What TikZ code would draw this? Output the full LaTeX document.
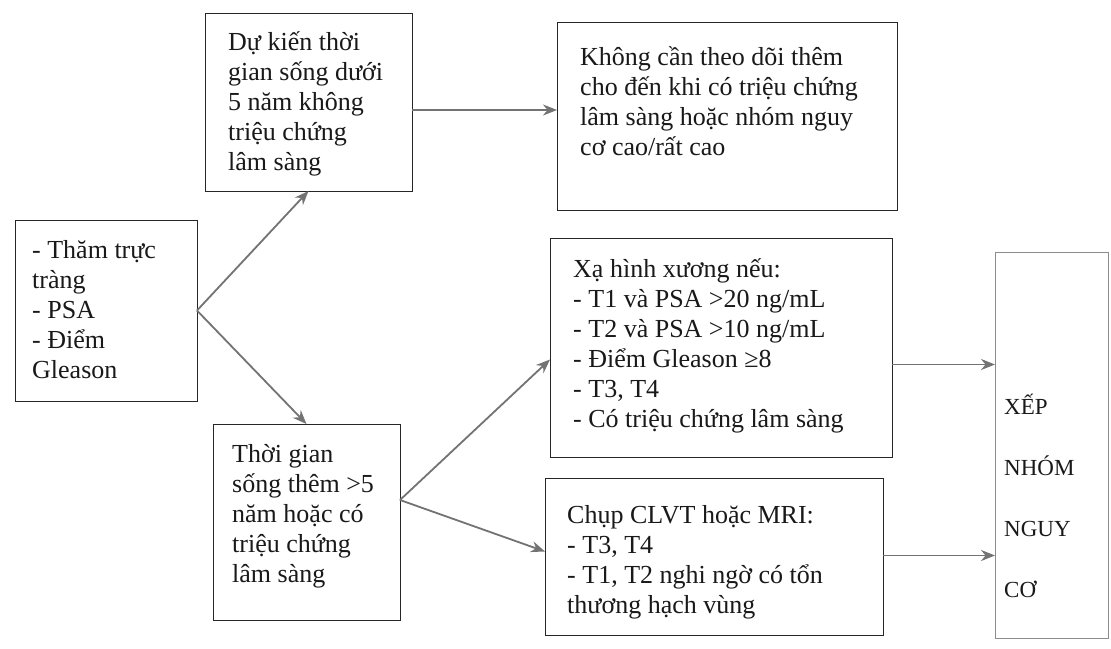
\documentclass[tikz,border=0pt]{standalone}
\usepackage{fontspec}
\setmainfont{Liberation Serif}
\usetikzlibrary{arrows.meta}
\newcommand{\fsm}{\fontsize{26}{30}\selectfont}
\newcommand{\fsg}{\fontsize{23}{61}\selectfont}
\begin{document}
\begin{tikzpicture}[x=1pt,y=-1pt,
  box/.style={draw=black!85, line width=0.9pt, inner sep=0pt, outer sep=0pt, anchor=north west},
  txt/.style={anchor=north west, inner sep=0pt, align=left, font=\fsm, text=black!90},
  arr/.style={draw=black!55, line width=1.8pt, -{Stealth[length=14pt,width=11pt]}}]
\useasboundingbox[fill=white] (0,0) rectangle (1111,648);
% boxes
\node[box, minimum width=182pt, minimum height=181pt] (a) at (15,220) {};
\node[box, minimum width=207pt, minimum height=178pt] (b) at (205,13) {};
\node[box, minimum width=340pt, minimum height=188pt] (c) at (557,22) {};
\node[box, minimum width=342pt, minimum height=219pt] (d) at (550,238) {};
\node[box, minimum width=187pt, minimum height=196pt] (e) at (213,424) {};
\node[box, minimum width=338pt, minimum height=157pt] (f) at (545,478) {};
\node[box, draw=black!45, minimum width=113pt, minimum height=386pt] (g) at (995,252) {};
% texts
\node[txt] (ta) at (32,237) {\strut- Thăm trực\\tràng\\- PSA\\- Điểm\\Gleason};
\node[txt] (tb) at (228,29) {\strut Dự kiến thời\\gian sống dưới\\5 năm không\\triệu chứng\\lâm sàng};
\node[txt] (tc) at (580,44) {\strut Không cần theo dõi thêm\\cho đến khi có triệu chứng\\lâm sàng hoặc nhóm nguy\\cơ cao/rất cao};
\node[txt] (td) at (573,256) {\strut Xạ hình xương nếu:\\- T1 và PSA >20 ng/mL\\- T2 và PSA >10 ng/mL\\- Điểm Gleason ≥8\\- T3, T4\\- Có triệu chứng lâm sàng};
\node[txt] (te) at (232,441) {\strut Thời gian\\sống thêm >5\\năm hoặc có\\triệu chứng\\lâm sàng};
\node[txt] (tf) at (567,502) {\strut Chụp CLVT hoặc MRI:\\- T3, T4\\- T1, T2 nghi ngờ có tổn\\thương hạch vùng};
\node[txt, font=\fsg] (tg) at (1004,372) {\strut XẾP\\NHÓM\\NGUY\\CƠ};
% connectors
\draw[arr] (a.east) -- (b.south);
\draw[arr] (a.east) -- (e.north);
\draw[arr] ([yshift=-8pt]b.east) -- ([yshift=-8pt]b.east -| c.west);
\draw[arr] ([yshift=22pt]e.east) -- ([yshift=-12pt]d.west);
\draw[arr] ([yshift=22pt]e.east) -- ([yshift=5pt]f.west);
\draw[arr] ([yshift=-17pt]d.east) -- ([yshift=-17pt]d.east -| g.west);
\draw[arr] ([yshift=1pt]f.east) -- ([yshift=1pt]f.east -| g.west);
\end{tikzpicture}
\end{document}
